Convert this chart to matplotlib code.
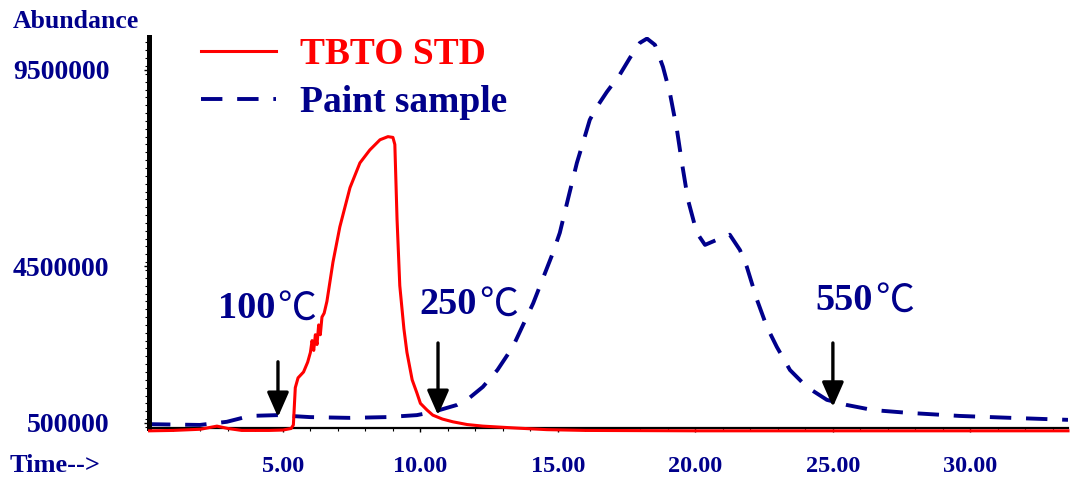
import matplotlib
matplotlib.use("Agg")
import matplotlib.pyplot as plt
from matplotlib.ticker import MultipleLocator, FixedLocator

NAVY = "#00008B"
RED = "#FF0000"

# retention time (min) / abundance (millions)
tbto_time = [0.15, 1.0, 2.0, 2.6, 3.0, 3.5, 4.5, 5.0, 5.3, 5.38, 5.45, 5.55, 5.75,
             5.9, 6.0, 6.06, 6.12, 6.18, 6.24, 6.3, 6.36, 6.42, 6.5, 6.6, 6.82,
             7.07, 7.44, 7.8, 8.16, 8.53, 8.82, 9.0, 9.07, 9.15, 9.25, 9.4, 9.51,
             9.7, 9.87, 10.0, 10.24, 10.45, 10.8, 11.18, 11.7, 12.27, 13.0, 13.5,
             14.6, 16.0, 20.0, 25.0, 30.0, 33.55]
tbto_abund = [0.30, 0.31, 0.34, 0.42, 0.36, 0.31, 0.31, 0.32, 0.36, 0.45, 1.4,
              1.65, 1.8, 2.05, 2.3, 2.6, 2.35, 2.75, 2.5, 3.0, 2.75, 3.2, 3.3,
              3.6, 4.6, 5.5, 6.5, 7.13, 7.46, 7.72, 7.80, 7.78, 7.6, 5.7, 4.0,
              2.9, 2.3, 1.6, 1.27, 1.0, 0.83, 0.70, 0.6, 0.53, 0.46, 0.42, 0.39,
              0.37, 0.33, 0.31, 0.30, 0.30, 0.30, 0.30]

paint_time = [0.13, 1.0, 1.98, 2.96, 3.8, 4.78, 5.98, 7.44, 8.78, 9.87, 10.45,
              11.33, 11.8, 12.27, 12.8, 13.36, 14.1, 14.82, 15.07, 15.36, 15.69,
              15.91, 16.16, 16.42, 16.78, 17.25, 17.62, 17.98, 18.24, 18.53, 18.82,
              19.07, 19.33, 19.51, 19.73, 20.05, 20.35, 20.78, 21.25, 21.62, 21.87,
              22.24, 22.6, 22.96, 23.44, 24.05, 24.78, 25.5, 26.45, 27.7, 29.6,
              31.5, 33.55]
paint_abund = [0.47, 0.46, 0.45, 0.53, 0.68, 0.70, 0.65, 0.63, 0.65, 0.70, 0.78,
               0.96, 1.15, 1.42, 1.85, 2.44, 3.55, 4.84, 5.35, 6.19, 7.13, 7.64,
               8.23, 8.56, 8.94, 9.38, 9.81, 10.19, 10.30, 10.14, 9.58, 8.92, 7.97,
               7.13, 6.19, 5.35, 5.04, 5.17, 5.30, 4.91, 4.48, 3.64, 2.95, 2.44,
               1.85, 1.42, 1.09, 0.96, 0.83, 0.76, 0.68, 0.63, 0.58]

# temperature markers: arrow x, arrow top, arrow tip, label
temp_x = [4.82, 10.64, 25.0]
temp_top = [2.06, 2.54, 2.54]
temp_tip = [0.65, 0.70, 0.91]
temp_labels = ["100", "250", "550"]
temp_label_x = [4.72, 12.05, 26.45]
temp_label_y = [3.42, 3.52, 3.62]

y_ticks = [500000, 4500000, 9500000]
x_ticks = [5, 10, 15, 20, 25, 30]

SCALE = 1e6
serif = ["Liberation Serif", "DejaVu Serif"]

fig = plt.figure(figsize=(10.7, 4.8), dpi=100)
ax = fig.add_axes([149 / 1070, 52 / 480, 919 / 1070, 391 / 480])

paint_line, = ax.plot(paint_time, [v * SCALE for v in paint_abund], color=NAVY,
                      lw=2.8, linestyle=(0, (5.5, 3.8)), label="Paint sample")
tbto_line, = ax.plot(tbto_time, [v * SCALE for v in tbto_abund], color=RED,
                     lw=2.2, label="TBTO STD", clip_on=False, zorder=3)

ax.set_xlim(0.13, 33.55)
ax.set_ylim(0.372e6, 10.34e6)

for spine in ["top", "right"]:
    ax.spines[spine].set_visible(False)
ax.spines["left"].set_linewidth(3.6)
ax.spines["bottom"].set_linewidth(1.6)

ax.xaxis.set_major_locator(FixedLocator(x_ticks))
ax.xaxis.set_minor_locator(MultipleLocator(1))
ax.set_xticklabels([f"{t:.2f}" for t in x_ticks])
ax.yaxis.set_major_locator(FixedLocator(y_ticks))
ax.yaxis.set_minor_locator(MultipleLocator(200000))
ax.set_yticklabels([str(t) for t in y_ticks])

ax.tick_params(axis="x", which="major", length=3, width=1, pad=17)
ax.tick_params(axis="x", which="minor", length=2.5, width=0.8)
ax.tick_params(axis="y", which="major", length=3.5, width=1, pad=25)
ax.tick_params(axis="y", which="minor", length=3, width=0.8)

for lab in ax.get_xticklabels():
    lab.set_fontfamily(serif)
    lab.set_fontweight("bold")
    lab.set_fontsize(17.5)
    lab.set_color(NAVY)
for lab in ax.get_yticklabels():
    lab.set_fontfamily(serif)
    lab.set_fontweight("bold")
    lab.set_fontsize(20)
    lab.set_color(NAVY)

fig.text(13 / 1070, 1 - 22 / 480, "Abundance", family=serif, weight="bold",
         fontsize=18.5, color=NAVY, ha="left", va="center")
fig.text(10 / 1070, 1 - 466 / 480, "Time-->", family=serif, weight="bold",
         fontsize=19, color=NAVY, ha="left", va="center")

for x, top, tip in zip(temp_x, temp_top, temp_tip):
    ax.annotate("", xy=(x, tip * SCALE), xytext=(x, top * SCALE),
                arrowprops=dict(arrowstyle="-|>,head_length=0.75,head_width=0.33",
                                mutation_scale=20, lw=2.4, color="black",
                                shrinkA=0, shrinkB=0))

for lx, ly, lab in zip(temp_label_x, temp_label_y, temp_labels):
    ax.text(lx, ly * SCALE, lab, family=serif, weight="bold", fontsize=27.5,
            color=NAVY, ha="right", va="center")
    ax.text(lx + 0.08, ly * SCALE, "\u2103", family=["Noto Sans CJK JP", "DejaVu Sans"],
            fontsize=28, color=NAVY, ha="left", va="center")

leg = ax.legend(handles=[tbto_line, paint_line], loc="upper left",
                bbox_to_anchor=(0.057, 1.0), frameon=False, labelcolor="linecolor",
                prop={"family": serif, "weight": "bold", "size": 27},
                handlelength=2.0, handletextpad=0.62, labelspacing=0.35,
                borderpad=0, borderaxespad=0)

fig.savefig("out.png", dpi=100)
